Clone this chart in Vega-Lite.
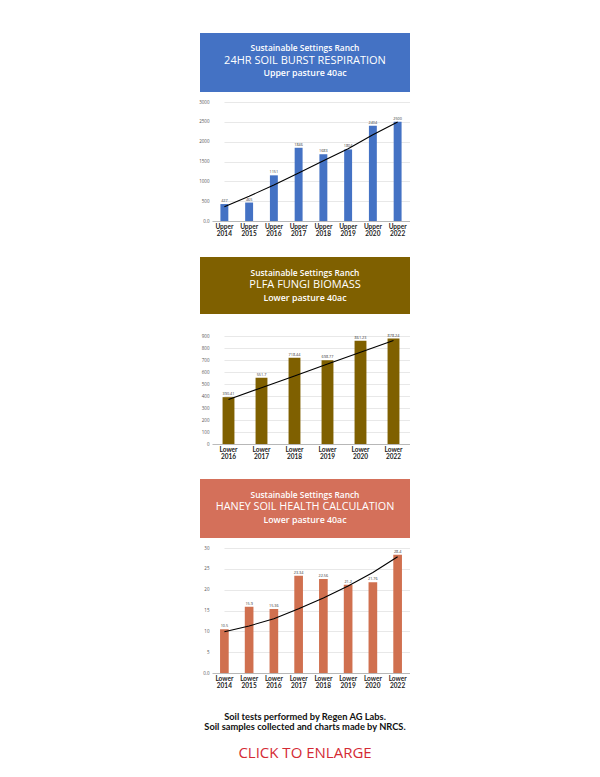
{
  "$schema": "https://vega.github.io/schema/vega-lite/v6.json",
  "background": "white",
  "padding": {"left": 198, "top": 33, "right": 0, "bottom": 0},
  "autosize": {"type": "pad"},
  "bounds": "flush",
  "spacing": 0,
  "config": {
    "view": {"stroke": null},
    "font": "Open Sans",
    "axisX": {"labelAngle": 0, "domainColor": "#aaaaaa", "domainWidth": 0.8, "ticks": false, "labelFontSize": 6.5, "labelFontWeight": "bold", "labelColor": "#222222", "labelLineHeight": 7.5, "labelPadding": 2, "title": null, "labelFont": "Lato", "labelExpr": "split(datum.label, ' ')"},
    "axisY": {"domain": false, "ticks": false, "labelFontSize": 4.5, "labelColor": "#555555", "labelPadding": 3, "offset": -12, "gridColor": "#d9d9d9", "gridWidth": 0.6, "title": null, "labelFont": "Open Sans", "labelOverlap": false}
  },
  "datasets": {
    "h1": [{"line": 1, "text": "Sustainable Settings Ranch"}, {"line": 2, "text": "24HR SOIL BURST RESPIRATION"}, {"line": 3, "text": "Upper pasture 40ac"}],
    "h2": [{"line": 1, "text": "Sustainable Settings Ranch"}, {"line": 2, "text": "PLFA FUNGI BIOMASS"}, {"line": 3, "text": "Lower pasture 40ac"}],
    "h3": [{"line": 1, "text": "Sustainable Settings Ranch"}, {"line": 2, "text": "HANEY SOIL HEALTH CALCULATION"}, {"line": 3, "text": "Lower pasture 40ac"}],
    "c1": [
      {"cat": "Upper 2014", "value": 427, "trend": 362},
      {"cat": "Upper 2015", "value": 465, "trend": 625},
      {"cat": "Upper 2016", "value": 1151, "trend": 910},
      {"cat": "Upper 2017", "value": 1846, "trend": 1213},
      {"cat": "Upper 2018", "value": 1683, "trend": 1516},
      {"cat": "Upper 2019", "value": 1804, "trend": 1820},
      {"cat": "Upper 2020", "value": 2404, "trend": 2173},
      {"cat": "Upper 2022", "value": 2500, "trend": 2494}
    ],
    "c2": [
      {"cat": "Lower 2016", "value": 390.41, "trend": 370},
      {"cat": "Lower 2017", "value": 551.7, "trend": 469},
      {"cat": "Lower 2018", "value": 718.44, "trend": 567},
      {"cat": "Lower 2019", "value": 698.77, "trend": 666},
      {"cat": "Lower 2020", "value": 861.23, "trend": 764},
      {"cat": "Lower 2022", "value": 878.24, "trend": 863}
    ],
    "c3": [
      {"cat": "Lower 2014", "value": 10.5, "trend": 9.9},
      {"cat": "Lower 2015", "value": 15.9, "trend": 11.3},
      {"cat": "Lower 2016", "value": 15.36, "trend": 13.0},
      {"cat": "Lower 2017", "value": 23.34, "trend": 15.4},
      {"cat": "Lower 2018", "value": 22.56, "trend": 18.0},
      {"cat": "Lower 2019", "value": 21.2, "trend": 20.9},
      {"cat": "Lower 2020", "value": 21.76, "trend": 24.1},
      {"cat": "Lower 2022", "value": 28.4, "trend": 27.9}
    ],
    "foot": [
      {"row": "a", "text": "Soil tests performed by Regen AG Labs.\nSoil samples collected and charts made by NRCS."},
      {"row": "b", "text": "CLICK TO ENLARGE"}
    ]
  },
  "vconcat": [
    {
      "width": 210, "height": 59,
      "view": {"fill": "#4472c4", "stroke": null},
      "data": {"name": "h1"},
      "encoding": {
        "y": {"field": "line", "type": "ordinal", "scale": {"range": [15, 40], "padding": 0}, "axis": null},
        "text": {"field": "text"}
      },
      "layer": [
        {"transform": [{"filter": "datum.line === 1"}], "mark": {"type": "text", "color": "white", "baseline": "middle", "align": "center", "fontSize": 8.4, "fontWeight": 600}},
        {"transform": [{"filter": "datum.line === 2"}], "mark": {"type": "text", "color": "white", "baseline": "middle", "align": "center", "fontSize": 11, "fontWeight": "normal"}},
        {"transform": [{"filter": "datum.line === 3"}], "mark": {"type": "text", "color": "white", "baseline": "middle", "align": "center", "fontSize": 8.8, "fontWeight": 600}}
      ]
    },
    {
      "width": 210, "height": 164.5,
      "data": {"name": "c1"},
      "encoding": {
        "x": {"field": "cat", "type": "ordinal", "sort": null, "scale": {"range": [12, 210], "paddingInner": 0.68, "paddingOuter": 0.34}, "axis": {"offset": -35.5}}
      },
      "layer": [
        {"mark": {"type": "bar", "color": "#4472c4"},
         "encoding": {"y": {"field": "value", "type": "quantitative", "scale": {"domain": [0, 3000], "range": [129, 10], "nice": false}, "axis": {"values": [0, 500, 1000, 1500, 2000, 2500, 3000], "labelExpr": "datum.value === 0 ? '0.0' : datum.label", "format": "d"}}}},
        {"mark": {"type": "text", "dy": -3, "fontSize": 3.8, "color": "#333333", "font": "Open Sans"},
         "encoding": {"y": {"field": "value", "type": "quantitative", "axis": {"values": [0, 500, 1000, 1500, 2000, 2500, 3000], "labelExpr": "datum.value === 0 ? '0.0' : datum.label", "format": "d"}}, "text": {"field": "value", "type": "quantitative"}}},
        {"mark": {"type": "line", "color": "black", "strokeWidth": 1.1},
         "encoding": {"y": {"field": "trend", "type": "quantitative", "axis": {"values": [0, 500, 1000, 1500, 2000, 2500, 3000], "labelExpr": "datum.value === 0 ? '0.0' : datum.label", "format": "d"}}}}
      ]
    },
    {
      "width": 210, "height": 57,
      "view": {"fill": "#7f6000", "stroke": null},
      "data": {"name": "h2"},
      "encoding": {
        "y": {"field": "line", "type": "ordinal", "scale": {"range": [15.5, 41], "padding": 0}, "axis": null},
        "text": {"field": "text"}
      },
      "layer": [
        {"transform": [{"filter": "datum.line === 1"}], "mark": {"type": "text", "color": "white", "baseline": "middle", "align": "center", "fontSize": 8.4, "fontWeight": 600}},
        {"transform": [{"filter": "datum.line === 2"}], "mark": {"type": "text", "color": "white", "baseline": "middle", "align": "center", "fontSize": 11, "fontWeight": "normal"}},
        {"transform": [{"filter": "datum.line === 3"}], "mark": {"type": "text", "color": "white", "baseline": "middle", "align": "center", "fontSize": 8.8, "fontWeight": 600}}
      ]
    },
    {
      "width": 210, "height": 164.5,
      "data": {"name": "c2"},
      "encoding": {
        "x": {"field": "cat", "type": "ordinal", "sort": null, "scale": {"range": [12, 210], "paddingInner": 0.64, "paddingOuter": 0.32}, "axis": {"offset": -34.5}}
      },
      "layer": [
        {"mark": {"type": "bar", "color": "#7f6000"},
         "encoding": {"y": {"field": "value", "type": "quantitative", "scale": {"domain": [0, 900], "range": [130, 22], "nice": false}, "axis": {"values": [0, 100, 200, 300, 400, 500, 600, 700, 800, 900], "format": "d"}}}},
        {"mark": {"type": "text", "dy": -3, "fontSize": 3.8, "color": "#333333", "font": "Open Sans"},
         "encoding": {"y": {"field": "value", "type": "quantitative", "axis": {"values": [0, 100, 200, 300, 400, 500, 600, 700, 800, 900], "format": "d"}}, "text": {"field": "value", "type": "quantitative"}}},
        {"mark": {"type": "line", "color": "black", "strokeWidth": 1.1},
         "encoding": {"y": {"field": "trend", "type": "quantitative", "axis": {"values": [0, 100, 200, 300, 400, 500, 600, 700, 800, 900], "format": "d"}}}}
      ]
    },
    {
      "width": 210, "height": 59,
      "view": {"fill": "#d4705a", "stroke": null},
      "data": {"name": "h3"},
      "encoding": {
        "y": {"field": "line", "type": "ordinal", "scale": {"range": [15.5, 41], "padding": 0}, "axis": null},
        "text": {"field": "text"}
      },
      "layer": [
        {"transform": [{"filter": "datum.line === 1"}], "mark": {"type": "text", "color": "white", "baseline": "middle", "align": "center", "fontSize": 8.4, "fontWeight": 600}},
        {"transform": [{"filter": "datum.line === 2"}], "mark": {"type": "text", "color": "white", "baseline": "middle", "align": "center", "fontSize": 10.8, "fontWeight": "normal"}},
        {"transform": [{"filter": "datum.line === 3"}], "mark": {"type": "text", "color": "white", "baseline": "middle", "align": "center", "fontSize": 8.8, "fontWeight": 600}}
      ]
    },
    {
      "width": 210, "height": 169.5,
      "data": {"name": "c3"},
      "encoding": {
        "x": {"field": "cat", "type": "ordinal", "sort": null, "scale": {"range": [12, 210], "paddingInner": 0.65, "paddingOuter": 0.325}, "axis": {"offset": -34.5}}
      },
      "layer": [
        {"mark": {"type": "bar", "color": "#d0704f"},
         "encoding": {"y": {"field": "value", "type": "quantitative", "scale": {"domain": [0, 30], "range": [135, 10], "nice": false}, "axis": {"values": [0, 5, 10, 15, 20, 25, 30], "labelExpr": "datum.value === 0 ? '0.0' : datum.label", "format": "d"}}}},
        {"mark": {"type": "text", "dy": -3, "fontSize": 3.8, "color": "#333333", "font": "Open Sans"},
         "encoding": {"y": {"field": "value", "type": "quantitative", "axis": {"values": [0, 5, 10, 15, 20, 25, 30], "labelExpr": "datum.value === 0 ? '0.0' : datum.label", "format": "d"}}, "text": {"field": "value", "type": "quantitative"}}},
        {"mark": {"type": "line", "color": "black", "strokeWidth": 1.1},
         "encoding": {"y": {"field": "trend", "type": "quantitative", "axis": {"values": [0, 5, 10, 15, 20, 25, 30], "labelExpr": "datum.value === 0 ? '0.0' : datum.label", "format": "d"}}}}
      ]
    },
    {
      "width": 210, "height": 55,
      "data": {"name": "foot"},
      "encoding": {
        "y": {"field": "row", "type": "ordinal", "scale": {"range": [8.5, 45], "padding": 0}, "axis": null},
        "text": {"field": "text"}
      },
      "layer": [
        {"transform": [{"filter": "datum.row === 'a'"}],
         "mark": {"type": "text", "font": "Lato", "fontSize": 9.3, "fontWeight": "bold", "color": "#111111", "lineBreak": "\n", "lineHeight": 10.5, "baseline": "middle", "align": "center"}},
        {"transform": [{"filter": "datum.row === 'b'"}],
         "mark": {"type": "text", "font": "Open Sans", "fontSize": 15, "color": "#d42a34", "baseline": "middle", "align": "center"}}
      ]
    }
  ]
}
